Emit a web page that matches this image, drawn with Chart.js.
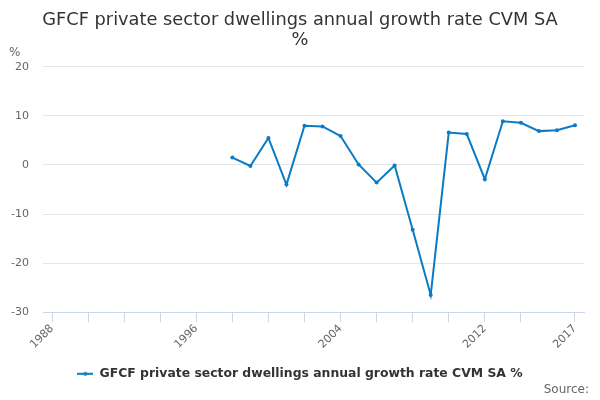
<!DOCTYPE html>
<html>
<head>
<meta charset="utf-8">
<script src="https://cdn.jsdelivr.net/npm/chart.js@4/dist/chart.umd.min.js"></script>
<style>
html,body{margin:0;padding:0;background:#fff;}
#wrap{width:600px;height:400px;position:relative;}
</style>
</head>
<body>
<div id="wrap"><canvas id="c" width="600" height="400"></canvas></div>
<script>
const titleLines = ['GFCF private sector dwellings annual growth rate CVM SA', '%'];
const seriesName = 'GFCF private sector dwellings annual growth rate CVM SA %';
const years = [1998,1999,2000,2001,2002,2003,2004,2005,2006,2007,2008,2009,2010,2011,2012,2013,2014,2015,2016,2017];
const values = [1.5,-0.2,5.5,-4.0,8.0,7.85,5.9,0.1,-3.6,-0.1,-13.2,-26.5,6.6,6.3,-2.9,8.9,8.6,6.9,7.1,8.1];
const xTickValues = [1988,1990,1992,1994,1996,1998,2000,2002,2004,2006,2008,2010,2012,2014,2017];
const xLabelValues = [1988,1996,2004,2012,2017];
const yTickValues = [-30,-20,-10,0,10,20];
const yUnit = '%';
const sourceText = 'Source:';

const lineColor = '#0a7bc4';
const FONT = "'DejaVu Sans', sans-serif";

// legend marker (line with dot)
const marker = document.createElement('canvas');
marker.width = 16; marker.height = 10;
(function(){
  const m = marker.getContext('2d');
  m.strokeStyle = lineColor; m.lineWidth = 2;
  m.beginPath(); m.moveTo(0,5); m.lineTo(16,5); m.stroke();
  m.fillStyle = lineColor;
  m.beginPath(); m.arc(8,5,2,0,Math.PI*2); m.fill();
})();

const extras = {
  id: 'extras',
  afterDraw(chart) {
    const ctx = chart.ctx;
    ctx.save();
    ctx.fillStyle = '#666';
    ctx.font = '12px ' + FONT;
    ctx.textAlign = 'left';
    ctx.textBaseline = 'middle';
    ctx.fillText(yUnit, 9, 53);
    ctx.textAlign = 'right';
    ctx.textBaseline = 'alphabetic';
    ctx.fillText(sourceText, 589, 393);
    ctx.restore();
  }
};

new Chart(document.getElementById('c'), {
  type: 'line',
  data: {
    datasets: [{
      label: seriesName,
      data: years.map((y, i) => ({x: y, y: values[i]})),
      borderColor: lineColor,
      backgroundColor: lineColor,
      borderWidth: 2,
      pointRadius: 2,
      pointHoverRadius: 2,
      pointBackgroundColor: lineColor,
      pointBorderWidth: 0,
      tension: 0,
      fill: false
    }]
  },
  options: {
    responsive: false,
    animation: false,
    devicePixelRatio: 1,
    layout: { padding: { left: 8, right: 8, top: 0, bottom: 10 } },
    plugins: {
      title: {
        display: true,
        text: titleLines,
        color: '#333',
        font: { family: FONT, size: 17.8, weight: 'normal', lineHeight: 1.12 },
        padding: { top: 10, bottom: 17 }
      },
      legend: {
        display: true,
        position: 'bottom',
        labels: {
          color: '#333',
          font: { family: FONT, size: 12.4, weight: 'bold' },
          usePointStyle: true,
          pointStyleWidth: 16,
          boxHeight: 10,
          generateLabels(chart) {
            const items = Chart.defaults.plugins.legend.labels.generateLabels(chart);
            items.forEach(it => { it.pointStyle = marker; });
            return items;
          }
        }
      },
      tooltip: { enabled: false }
    },
    scales: {
      x: {
        type: 'linear',
        min: 1987.5,
        max: 2017.5,
        afterBuildTicks(scale) { scale.ticks = xTickValues.map(v => ({value: v})); },
        afterFit(scale) { scale.height = 45.5; },
        ticks: {
          autoSkip: false,
          maxRotation: 45,
          minRotation: 45,
          color: '#666',
          font: { family: FONT, size: 11 },
          padding: 0,
          callback(v) { return xLabelValues.includes(v) ? String(v) : ''; }
        },
        grid: {
          drawOnChartArea: false,
          drawTicks: true,
          tickLength: 10,
          color: '#ccd6eb'
        },
        border: { display: true, color: '#ccd6eb', width: 1 }
      },
      y: {
        min: -30,
        max: 20,
        afterBuildTicks(scale) { scale.ticks = yTickValues.map(v => ({value: v})); },
        afterFit(scale) { scale.width = 35; },
        ticks: {
          color: '#666',
          font: { family: FONT, size: 11 },
          padding: 14
        },
        grid: {
          color: '#e6e6e6',
          drawTicks: false
        },
        border: { display: false }
      },
      yRight: {
        position: 'right',
        display: true,
        min: -30,
        max: 20,
        afterFit(scale) { scale.width = 8; },
        ticks: { display: false },
        grid: { display: false, drawTicks: false },
        border: { display: false }
      }
    }
  },
  plugins: [extras]
});
</script>
</body>
</html>
